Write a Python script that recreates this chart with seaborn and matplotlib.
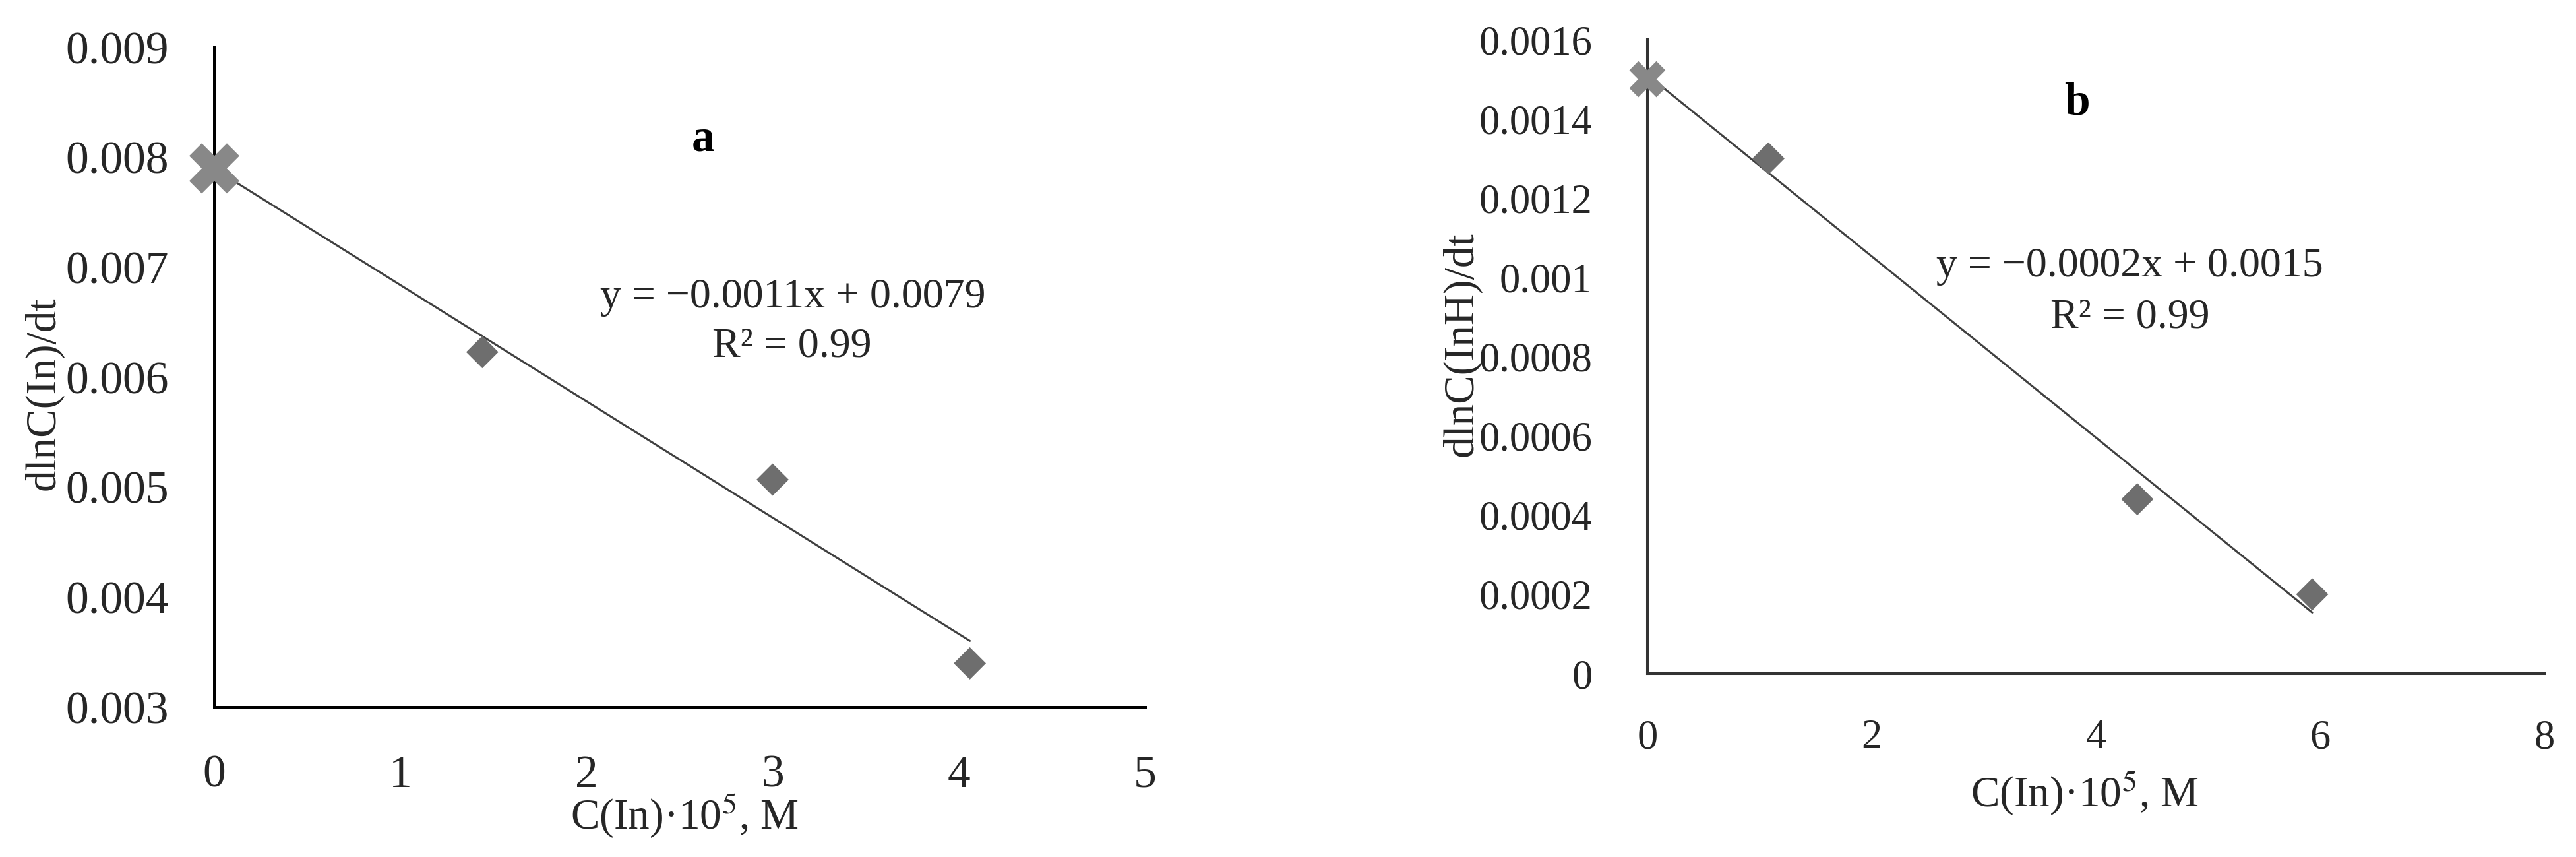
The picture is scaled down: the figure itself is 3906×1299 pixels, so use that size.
import numpy as np
import matplotlib
matplotlib.use("Agg")
import matplotlib.pyplot as plt
import seaborn as sns

# panel a data
a_x_start = [0.0]
a_y_start = [0.0079]
a_x = [1.44, 3.0, 4.06]
a_y = [0.00623, 0.00507, 0.0034]
a_yticks = [0.003, 0.004, 0.005, 0.006, 0.007, 0.008, 0.009]
a_yticklabels = ["0.003", "0.004", "0.005", "0.006", "0.007", "0.008", "0.009"]
a_xticks = [0, 1, 2, 3, 4, 5]

# panel b data
b_x_start = [0.0]
b_y_start = [0.0015]
b_x = [1.08, 4.37, 5.93]
b_y = [0.0013, 0.00044, 0.0002]
b_yticks = [0, 0.0002, 0.0004, 0.0006, 0.0008, 0.001, 0.0012, 0.0014, 0.0016]
b_yticklabels = ["0", "0.0002", "0.0004", "0.0006", "0.0008", "0.001", "0.0012", "0.0014", "0.0016"]
b_xticks = [0, 2, 4, 6, 8]

sns.set_theme(style="white")
plt.rcParams['font.family'] = ['Liberation Serif', 'DejaVu Serif']
plt.rcParams['mathtext.fontset'] = 'stix'

fig = plt.figure(figsize=(39.06, 12.99), dpi=100)
ax_a = fig.add_axes([0.0832, 0.1747, 0.3612, 0.7699])
ax_b = fig.add_axes([0.6395, 0.214, 0.3482, 0.7398])

fs = 50       # tick labels
fs_lab = 47   # axis labels
fs_eq = 46    # trendline text
txt_col = '#262626'


def draw_panel(ax, x0, y0, xs, ys, ms_x, spine_col, spine_lw):
    allx = np.array(x0 + xs)
    ally = np.array(y0 + ys)
    sns.regplot(x=allx, y=ally, scatter=False, ci=None, ax=ax,
                line_kws=dict(color='#404040', lw=2.2, zorder=3))
    sns.scatterplot(x=xs, y=ys, marker='D', s=620, color='#6e6e6e',
                    edgecolor='none', ax=ax, zorder=4, clip_on=False)
    sns.scatterplot(x=x0, y=y0, marker='X', s=ms_x, color='#888888',
                    edgecolor='none', ax=ax, zorder=5, clip_on=False)
    for s in ['top', 'right']:
        ax.spines[s].set_visible(False)
    for s in ['left', 'bottom']:
        ax.spines[s].set_color(spine_col)
        ax.spines[s].set_linewidth(spine_lw)
    ax.tick_params(axis='both', length=0, labelsize=fs, colors=txt_col)


draw_panel(ax_a, a_x_start, a_y_start, a_x, a_y, 3000, 'black', 3.6)
ax_a.set_xlim(0, 5)
ax_a.set_ylim(0.003, 0.009)
ax_a.set_xticks(a_xticks)
ax_a.set_xticklabels([str(t) for t in a_xticks])
ax_a.set_yticks(a_yticks)
ax_a.set_yticklabels(a_yticklabels)
ax_a.tick_params(axis='y', pad=50)
ax_a.tick_params(axis='x', pad=52)
ax_a.set_xlabel("C(In)·10$^5$, M", fontsize=fs_lab, color=txt_col)
ax_a.xaxis.set_label_coords(0.505, -0.128)
ax_a.set_ylabel("dlnC(In)/dt", fontsize=fs_lab, color=txt_col)
ax_a.yaxis.set_label_coords(-0.162, 0.476)
ax_a.text(0.525, 0.86, "a", transform=ax_a.transAxes, fontsize=fs,
          fontweight='bold', ha='center', va='center', color='black')
ax_a.text(0.622, 0.621, "y = −0.0011x + 0.0079", transform=ax_a.transAxes,
          fontsize=fs_eq, ha='center', va='center', color=txt_col)
ax_a.text(0.621, 0.547, "R² = 0.99", transform=ax_a.transAxes,
          fontsize=fs_eq, ha='center', va='center', color=txt_col)

draw_panel(ax_b, b_x_start, b_y_start, b_x, b_y, 1550, '#333333', 2.9)
ax_b.set_xlim(0, 8)
ax_b.set_ylim(0, 0.0016)
ax_b.set_xticks(b_xticks)
ax_b.set_xticklabels([str(t) for t in b_xticks])
ax_b.set_yticks(b_yticks)
ax_b.set_yticklabels(b_yticklabels)
ax_b.tick_params(axis='both', labelsize=45)
ax_b.tick_params(axis='y', pad=60)
ax_b.tick_params(axis='x', pad=50)
ax_b.set_xlabel("C(In)·10$^5$, M", fontsize=fs_lab, color=txt_col)
ax_b.xaxis.set_label_coords(0.4875, -0.15)
ax_b.set_ylabel("dlnC(InH)/dt", fontsize=fs_lab, color=txt_col)
ax_b.yaxis.set_label_coords(-0.1846, 0.52)
ax_b.text(0.479, 0.90, "b", transform=ax_b.transAxes, fontsize=fs,
          fontweight='bold', ha='center', va='center', color='black')
ax_b.text(0.538, 0.642, "y = −0.0002x + 0.0015", transform=ax_b.transAxes,
          fontsize=fs_eq, ha='center', va='center', color=txt_col)
ax_b.text(0.538, 0.561, "R² = 0.99", transform=ax_b.transAxes,
          fontsize=fs_eq, ha='center', va='center', color=txt_col)

fig.savefig("out.png", dpi=100, facecolor='white')
plt.close(fig)
